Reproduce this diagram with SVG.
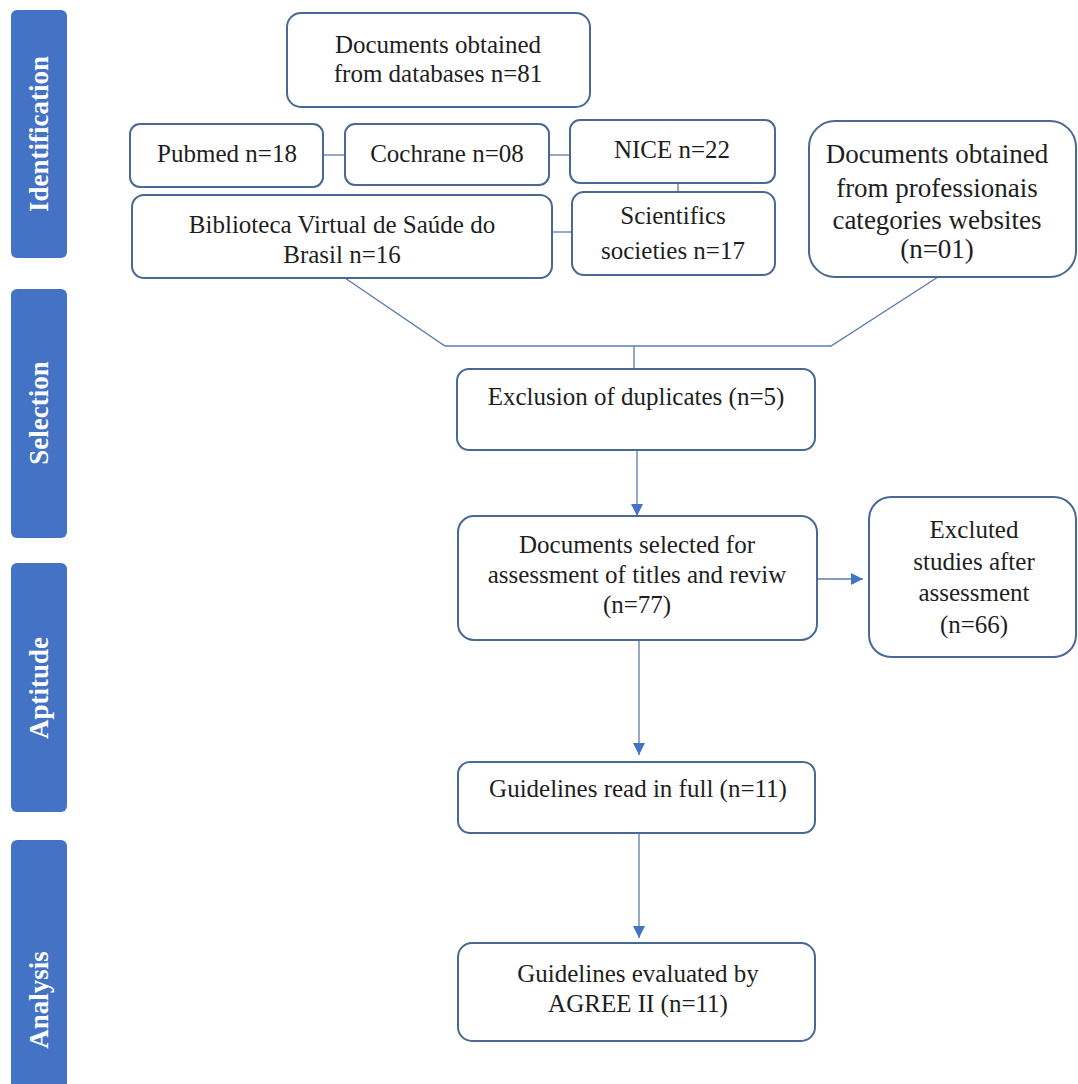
<svg xmlns="http://www.w3.org/2000/svg" width="1078" height="1084" viewBox="0 0 1078 1084">
<style>
.bg{fill:#ffffff}
.bar{fill:#4472c4}
.bar-t{fill:#ffffff;font-family:"Liberation Serif","Times New Roman",serif;font-weight:bold;font-size:27px;text-anchor:middle}
.box{fill:#ffffff;stroke:#4a6894;stroke-width:2}
.t{fill:#1e1e1e;font-family:"Liberation Serif","Times New Roman",serif;font-size:25px;text-anchor:middle}
.t27{font-size:27px}
.ln{fill:none;stroke:#5a7bb0;stroke-width:1.3}
</style>
<defs>
<marker id="ah" markerUnits="userSpaceOnUse" markerWidth="12" markerHeight="14" refX="12" refY="6" orient="auto">
<path d="M0,0 L12,6 L0,12 z" fill="#4472c4"/>
</marker>
</defs>
<rect class="bg" x="0" y="0" width="1078" height="1084"/>

<g id="stage-identification">
<rect class="bar" x="11" y="10" width="56" height="248" rx="6"/>
<text class="bar-t" transform="translate(48,134) rotate(-90)">Identification</text>
</g>
<g id="stage-selection">
<rect class="bar" x="11" y="289" width="56" height="249" rx="6"/>
<text class="bar-t" transform="translate(48,413) rotate(-90)">Selection</text>
</g>
<g id="stage-aptitude">
<rect class="bar" x="11" y="563" width="56" height="249" rx="6"/>
<text class="bar-t" transform="translate(48,688) rotate(-90)">Aptitude</text>
</g>
<g id="stage-analysis">
<rect class="bar" x="11" y="840" width="56" height="260" rx="6"/>
<text class="bar-t" transform="translate(48,1000) rotate(-90)">Analysis</text>
</g>

<g id="connectors">
<line class="ln" x1="323" y1="155" x2="345" y2="155"/>
<line class="ln" x1="549" y1="155" x2="570" y2="155"/>
<line class="ln" x1="678" y1="183" x2="678" y2="193"/>
<line class="ln" x1="552" y1="232" x2="573" y2="232"/>
<polyline class="ln" points="345,278 445,346 831,346 938,277"/>
<line class="ln" x1="634" y1="346" x2="634" y2="369"/>
<line class="ln" x1="637" y1="450" x2="637" y2="516" marker-end="url(#ah)"/>
<line class="ln" x1="817" y1="579" x2="863" y2="579" marker-end="url(#ah)"/>
<line class="ln" x1="639" y1="640" x2="639" y2="755" marker-end="url(#ah)"/>
<line class="ln" x1="639" y1="833" x2="639" y2="938" marker-end="url(#ah)"/>
</g>

<g id="n-databases">
<rect class="box" x="287" y="13" width="303" height="94" rx="14"/>
<text class="t" x="438" y="53">Documents obtained</text>
<text class="t" x="438" y="82">from databases n=81</text>
</g>
<g id="n-pubmed">
<rect class="box" x="130" y="124" width="193" height="63" rx="10"/>
<text class="t" x="227" y="162">Pubmed n=18</text>
</g>
<g id="n-cochrane">
<rect class="box" x="345" y="124" width="204" height="61" rx="10"/>
<text class="t" x="447" y="162">Cochrane n=08</text>
</g>
<g id="n-nice">
<rect class="box" x="570" y="120" width="205" height="63" rx="10"/>
<text class="t" x="672" y="158">NICE n=22</text>
</g>
<g id="n-bvs">
<rect class="box" x="132" y="195" width="420" height="83" rx="12"/>
<text class="t" x="342" y="233">Biblioteca Virtual de Saúde do</text>
<text class="t" x="342" y="263">Brasil n=16</text>
</g>
<g id="n-societies">
<rect class="box" x="572" y="192" width="203" height="83" rx="12"/>
<text class="t" x="673" y="224">Scientifics</text>
<text class="t" x="673" y="259">societies n=17</text>
</g>
<g id="n-professional">
<rect class="box" x="809" y="121" width="267" height="156" rx="26"/>
<text class="t t27" x="937" y="163">Documents obtained</text>
<text class="t t27" x="937" y="197">from professionais</text>
<text class="t t27" x="937" y="229">categories websites</text>
<text class="t t27" x="937" y="258">(n=01)</text>
</g>
<g id="n-duplicates">
<rect class="box" x="457" y="369" width="358" height="81" rx="12"/>
<text class="t" x="636" y="405">Exclusion of duplicates (n=5)</text>
</g>
<g id="n-selected">
<rect class="box" x="458" y="516" width="359" height="124" rx="16"/>
<text class="t" x="637" y="553">Documents selected for</text>
<text class="t" x="637" y="583">assessment of titles and reviw</text>
<text class="t" x="637" y="613">(n=77)</text>
</g>
<g id="n-excluded">
<rect class="box" x="869" y="497" width="207" height="160" rx="22"/>
<text class="t" x="974" y="538">Excluted</text>
<text class="t" x="974" y="570">studies after</text>
<text class="t" x="974" y="601">assessment</text>
<text class="t" x="974" y="633">(n=66)</text>
</g>
<g id="n-fullread">
<rect class="box" x="458" y="762" width="357" height="71" rx="12"/>
<text class="t" x="638" y="797">Guidelines read in full (n=11)</text>
</g>
<g id="n-agree">
<rect class="box" x="458" y="943" width="357" height="98" rx="14"/>
<text class="t" x="638" y="982">Guidelines evaluated by</text>
<text class="t" x="638" y="1012">AGREE II (n=11)</text>
</g>
</svg>
